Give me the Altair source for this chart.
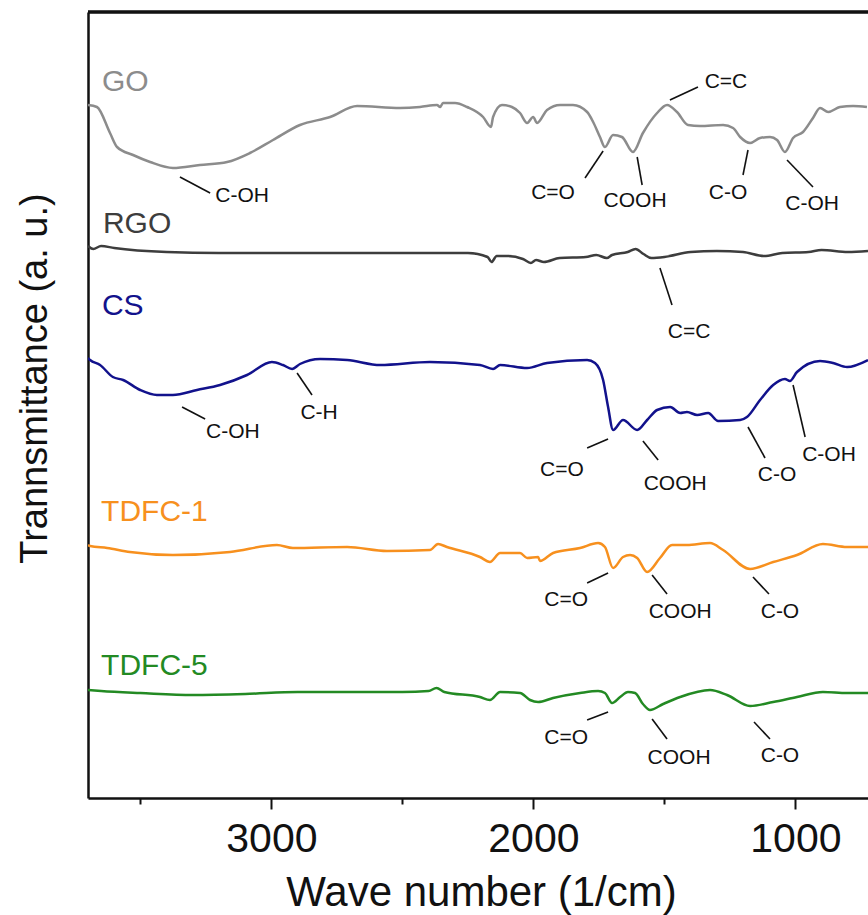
import altair as alt
import pandas as pd

# ---------------- data ----------------
series_names = ["GO", "RGO", "CS", "TDFC-1", "TDFC-5"]
series_colors = ["#8c8c8c", "#3d3d3d", "#12128c", "#f7901e", "#238a23"]

go_wn = [3700, 3666, 3616, 3589, 3528, 3463, 3376, 3273, 3169, 3082, 2994, 2891, 2776, 2673, 2509,
         2433, 2368, 2356, 2345, 2299, 2253, 2192, 2162, 2154, 2120, 2082, 2051, 2024, 2001, 1986,
         1948, 1898, 1849, 1795, 1772, 1746, 1727, 1696, 1662, 1620, 1582, 1528, 1490, 1452, 1410,
         1364, 1276, 1238, 1211, 1173, 1135, 1097, 1070, 1040, 1009, 971, 933, 906, 875, 830, 780, 727]
go_t = [693, 691, 665, 651, 643, 636, 630, 633, 636, 645, 658, 673, 681, 692, 690,
        691, 693, 691, 695, 695, 691, 681, 671, 681, 693, 691, 685, 675, 681, 675,
        688, 693, 693, 686, 676, 661, 651, 663, 661, 646, 665, 685, 693, 686, 673,
        672, 673, 670, 661, 655, 660, 661, 658, 646, 660, 666, 680, 690, 686, 691, 692, 691]

rgo_wn = [3700, 3680, 3650, 3600, 3400, 3200, 3000, 2800, 2600, 2400, 2250, 2175, 2160, 2140, 2100,
          2040, 2010, 1990, 1960, 1900, 1800, 1760, 1720, 1700, 1640, 1610, 1580, 1550, 1500, 1400,
          1300, 1200, 1120, 1050, 950, 900, 800, 723]
rgo_t = [552, 549, 552, 550, 546, 545, 545, 545, 545, 545, 545, 541, 536, 542, 542,
         539, 535, 538, 536, 540, 541, 543, 540, 543, 546, 549, 544, 540, 541, 546,
         547, 546, 542, 545, 546, 548, 546, 547]

cs_wn = [3700, 3692, 3654, 3605, 3566, 3501, 3437, 3376, 3284, 3196, 3093, 2998, 2956, 2921, 2891,
         2814, 2711, 2585, 2395, 2204, 2154, 2127, 2024, 1948, 1795, 1765, 1734, 1715, 1696, 1658,
         1604, 1566, 1528, 1478, 1440, 1414, 1375, 1333, 1295, 1211, 1185, 1135, 1085, 1040, 1021,
         994, 906, 856, 803, 723]
cs_t = [440, 438, 433, 421, 418, 408, 403, 403, 408, 413, 423, 436, 433, 429, 434,
        439, 438, 433, 436, 433, 429, 433, 430, 435, 438, 435, 418, 391, 368, 378,
        368, 378, 388, 391, 385, 386, 383, 385, 377, 378, 381, 398, 413, 419, 417,
        426, 437, 435, 431, 438]

t1_wn = [3700, 3692, 3627, 3540, 3376, 3158, 2979, 2918, 2711, 2559, 2395, 2364, 2330, 2204, 2166,
         2127, 2051, 2024, 1982, 1975, 1925, 1822, 1753, 1727, 1696, 1658, 1631, 1604, 1566, 1517,
         1471, 1414, 1326, 1276, 1173, 1085, 994, 895, 803, 723]
t1_t = [253, 252, 250, 246, 243, 246, 253, 250, 251, 247, 248, 254, 251, 241, 236,
        245, 245, 240, 241, 237, 245, 250, 255, 251, 230, 241, 243, 240, 226, 240,
        253, 253, 255, 248, 229, 236, 243, 254, 251, 251]

t5_wn = [3700, 3650, 3500, 3300, 3100, 2900, 2700, 2500, 2400, 2370, 2340, 2204, 2166, 2127, 2051,
         2013, 1982, 1925, 1822, 1753, 1727, 1700, 1669, 1639, 1612, 1582, 1555, 1505, 1440, 1326,
         1261, 1173, 1085, 994, 895, 803, 723]
t5_t = [108, 107, 105, 103, 104, 106, 106, 106, 107, 110, 106, 101, 98, 106, 105,
        98, 96, 100, 105, 107, 105, 95, 101, 106, 105, 94, 88, 94, 101, 108,
        103, 92, 96, 101, 106, 105, 105]

# series name labels (left aligned)
name_wn = [3647, 3643, 3647, 3650, 3650]
name_t = [707, 565, 483, 277, 123]

# peak annotations: leader line ends and label centres
ann_label = ["C-OH", "C=O", "COOH", "C=C", "C-O", "C-OH",
             "C=C",
             "C-OH", "C-H", "C=O", "COOH", "C-O", "C-OH",
             "C=O", "COOH", "C-O",
             "C=O", "COOH", "C-O"]
ann_wn1 = [3349, 1803, 1604, 1479, 1181, 1032,
           1517,
           3341, 2902, 1715, 1582, 1181, 1009,
           1715, 1547, 1162,
           1715, 1547, 1158]
ann_t1 = [621, 620, 641, 698, 648, 638,
          530,
          391, 425, 359, 357, 371, 413,
          225, 223, 221,
          86, 79, 76]
ann_wn2 = [3234, 1734, 1585, 1372, 1200, 933,
           1471,
           3253, 2845, 1795, 1524, 1116, 963,
           1795, 1490, 1101,
           1795, 1490, 1097]
ann_t2 = [605, 647, 613, 711, 623, 611,
          493,
          379, 403, 350, 338, 340, 361,
          215, 204, 204,
          78, 59, 59]
ann_text_wn = [3112, 1925, 1612, 1265, 1257, 936,
               1406,
               3147, 2818, 1891, 1459, 1070, 872,
               1875, 1440, 1059,
               1875, 1444, 1059]
ann_text_t = [602, 605, 597, 716, 605, 594,
              466,
              366, 385, 328, 314, 323, 343,
              198, 186, 186,
              60, 40, 42]

# ---------------- tables ----------------
rows = []
for name, wn, tv in [("GO", go_wn, go_t), ("RGO", rgo_wn, rgo_t), ("CS", cs_wn, cs_t),
                     ("TDFC-1", t1_wn, t1_t), ("TDFC-5", t5_wn, t5_t)]:
    for w, v in zip(wn, tv):
        rows.append({"series": name, "wn": w, "t": v})
df = pd.DataFrame(rows)

df_names = pd.DataFrame({"series": series_names, "wn": name_wn, "t": name_t})
df_lines = pd.DataFrame({"wn": ann_wn1, "t": ann_t1, "wn2": ann_wn2, "t2": ann_t2})
df_text = pd.DataFrame({"wn": ann_text_wn, "t": ann_text_t, "label": ann_label})

FONT = "Liberation Sans"
INK = "#111111"
W, H = 780, 786

xscale = alt.Scale(domain=[723, 3700], reverse=True, nice=False, zero=False)
yscale = alt.Scale(domain=[0, 786], nice=False, zero=False)

x_axis = alt.Axis(
    title="Wave number (1/cm)",
    values=[3500, 3000, 2500, 2000, 1500, 1000],
    labelExpr="datum.value % 1000 == 0 ? format(datum.value, 'd') : ''",
    tickSize={"condition": {"test": "datum.value % 1000 == 0", "value": 11}, "value": 6},
    tickWidth=2, tickColor=INK,
    domainWidth=2.5, domainColor=INK,
    grid=False,
    labelFont=FONT, labelFontSize=41, labelColor=INK, labelPadding=10,
    labelFlush=False, labelOverlap=False,
    titleFont=FONT, titleFontSize=42, titleFontWeight="normal", titleColor=INK,
    titleX=393, titleY=107, titleAlign="center", titleBaseline="alphabetic",
)
y_axis = alt.Axis(
    title="Trannsmittance (a. u.)",
    labels=False, ticks=False, grid=False,
    domainWidth=2.5, domainColor=INK,
    titleFont=FONT, titleFontSize=38, titleFontWeight="normal", titleColor=INK,
    titleAngle=270, titleX=-42, titleY=366, titleAlign="center", titleBaseline="alphabetic",
)

X = alt.X("wn:Q", scale=xscale, axis=x_axis)
Y = alt.Y("t:Q", scale=yscale, axis=y_axis)
color = alt.Color("series:N", scale=alt.Scale(domain=series_names, range=series_colors), legend=None)

lines = alt.Chart(df).mark_line(strokeWidth=2.5, clip=True, interpolate="monotone").encode(
    x=X, y=Y, color=color
)

names = alt.Chart(df_names).mark_text(
    align="left", baseline="alphabetic", font=FONT, fontSize=30
).encode(x=X, y=Y, text="series:N", color=color)

leaders = alt.Chart(df_lines).mark_rule(strokeWidth=1.6, color=INK).encode(
    x=X, y=Y, x2="wn2:Q", y2="t2:Q"
)

ann = alt.Chart(df_text).mark_text(
    align="center", baseline="middle", font=FONT, fontSize=21, color=INK
).encode(x=X, y=Y, text="label:N")

top_border = alt.Chart(df_names).mark_rule(color=INK, strokeWidth=2.5).encode(
    x=alt.value(0), x2=alt.value(W), y=alt.value(0)
)

chart = alt.layer(lines, leaders, ann, names, top_border).properties(
    width=W, height=H,
    autosize=alt.AutoSizeParams(type="none"),
    padding={"left": 88, "top": 12, "right": 0, "bottom": 117},
    background="white",
).configure_view(stroke=None)

chart.save("out.html", embed_options={"renderer": "svg", "actions": False})
